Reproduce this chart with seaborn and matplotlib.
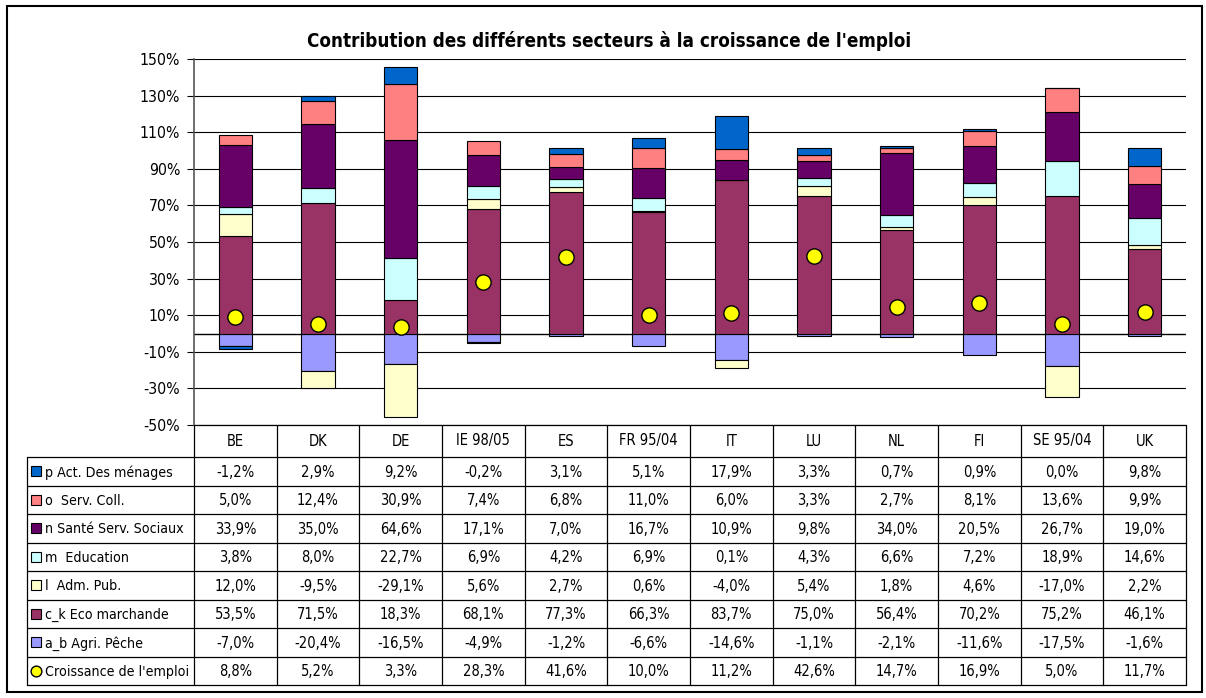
import os
import numpy as np
import matplotlib
matplotlib.use("Agg")
import matplotlib.pyplot as plt
from matplotlib import font_manager
from matplotlib.patches import Rectangle
import seaborn as sns

# données lues dans le tableau du graphique (%)
pays = ["BE", "DK", "DE", "IE 98/05", "ES", "FR 95/04", "IT", "LU", "NL", "FI", "SE 95/04", "UK"]

p_menages = [-1.2, 2.9, 9.2, -0.2, 3.1, 5.1, 17.9, 3.3, 0.7, 0.9, 0.0, 9.8]
o_serv_coll = [5.0, 12.4, 30.9, 7.4, 6.8, 11.0, 6.0, 3.3, 2.7, 8.1, 13.6, 9.9]
n_sante = [33.9, 35.0, 64.6, 17.1, 7.0, 16.7, 10.9, 9.8, 34.0, 20.5, 26.7, 19.0]
m_education = [3.8, 8.0, 22.7, 6.9, 4.2, 6.9, 0.1, 4.3, 6.6, 7.2, 18.9, 14.6]
l_adm_pub = [12.0, -9.5, -29.1, 5.6, 2.7, 0.6, -4.0, 5.4, 1.8, 4.6, -17.0, 2.2]
ck_eco = [53.5, 71.5, 18.3, 68.1, 77.3, 66.3, 83.7, 75.0, 56.4, 70.2, 75.2, 46.1]
ab_agri = [-7.0, -20.4, -16.5, -4.9, -1.2, -6.6, -14.6, -1.1, -2.1, -11.6, -17.5, -1.6]
croissance = [8.8, 5.2, 3.3, 28.3, 41.6, 10.0, 11.2, 42.6, 14.7, 16.9, 5.0, 11.7]

# ordre du tableau (haut -> bas)
noms = ["p Act. Des ménages", "o  Serv. Coll.", "n Santé Serv. Sociaux", "m  Education",
        "l  Adm. Pub.", "c_k Eco marchande", "a_b Agri. Pêche"]
series = [p_menages, o_serv_coll, n_sante, m_education, l_adm_pub, ck_eco, ab_agri]
couleurs = ["#0066CC", "#FF8080", "#660066", "#CCFFFF", "#FFFFCC", "#993366", "#9999FF"]
nom_croissance = "Croissance de l'emploi"

sns.set_style("white")
plt.rcParams["font.family"] = ["DejaVu Sans"]
plt.rcParams["text.color"] = "black"
plt.rcParams["ytick.color"] = "black"
plt.rcParams["ytick.labelcolor"] = "black"


# police étroite si disponible (comme Arial Narrow dans Excel)
def police_etroite(gras):
    prefs = ["LiberationSansNarrow", "DejaVuSansCondensed", "RobotoCondensed", "OpenSans_Condensed",
             "OpenSansCondensed", "NotoSansDisplay_Condensed", "NotoSans-Condensed"]
    fichiers = [f.fname for f in font_manager.fontManager.ttflist]
    for pr in prefs:
        for fn in fichiers:
            b = os.path.basename(fn).replace(" ", "")
            if pr in b and "Italic" not in b and "Oblique" not in b:
                est_gras = "Bold" in b and "SemiBold" not in b and "ExtraBold" not in b
                if est_gras == gras and ("Light" not in b and "Thin" not in b and "Medium" not in b):
                    return fn
    return None


f_reg = police_etroite(False)
f_bold = police_etroite(True)
fp = font_manager.FontProperties(fname=f_reg) if f_reg else font_manager.FontProperties(family="DejaVu Sans")
fpb = font_manager.FontProperties(fname=f_bold) if f_bold else font_manager.FontProperties(family="DejaVu Sans", weight="bold")
narrow = f_reg is not None and "Narrow" in f_reg
TS = 12 if narrow else (10.5 if f_reg else 9.5)


def F(size, bold=False):
    p = (fpb if bold else fp).copy()
    p.set_size(size)
    return p


W, H = 1206, 698
fig = plt.figure(figsize=(W / 100, H / 100), dpi=100)
fx = lambda px: px / W
fy = lambda py: 1 - py / H

X0, X1, Y0, Y1 = 194, 1186, 59, 425
ax = fig.add_axes([fx(X0), fy(Y1), fx(X1) - fx(X0), fy(Y0) - fy(Y1)])

n = len(pays)
pos = np.zeros(n)
neg = np.zeros(n)
for vals, col in zip(series[::-1], couleurs[::-1]):
    v = np.array(vals, dtype=float)
    base = np.where(v >= 0, pos, neg)
    sns.barplot(x=pays, y=v, order=pays, bottom=base, color=col, saturation=1,
                width=0.4, edgecolor="black", linewidth=0.8, errorbar=None, ax=ax, zorder=3)
    pos += np.where(v >= 0, v, 0)
    neg += np.where(v < 0, v, 0)

sns.stripplot(x=pays, y=croissance, order=pays, jitter=False, color="#FFFF00",
              edgecolor="black", linewidth=1, size=11, ax=ax, zorder=5)

ax.set_xlim(-0.5, n - 0.5)
ax.set_ylim(-50, 150)
ticks = list(range(-50, 151, 20))
ax.set_yticks(ticks)
ax.set_yticklabels([f"{t}%" for t in ticks], fontproperties=F(TS + 0.8))
ax.yaxis.grid(True, color="black", linewidth=0.8, zorder=0)
ax.set_axisbelow(True)
ax.axhline(0, color="black", linewidth=1, zorder=2)
ax.tick_params(axis="x", bottom=False, labelbottom=False)
ax.tick_params(axis="y", left=True, direction="out", length=5, width=0.8, color="black", pad=5)
ax.set_xlabel("")
ax.set_ylabel("")
for s in ["top", "right", "bottom"]:
    ax.spines[s].set_visible(False)
ax.spines["left"].set_color("#555555")
ax.spines["left"].set_linewidth(1.2)

# tableau de données sous le graphique
T1 = 685
tax = fig.add_axes([fx(X0), fy(T1), fx(X1) - fx(X0), fy(Y1) - fy(T1)])
tax.set_xlim(-0.5, n - 0.5)
tax.set_ylim(T1, Y1)
tax.axis("off")
ppu = (X1 - X0) / n
xl = -0.5 - (X0 - 27) / ppu
bords = np.linspace(457, T1, 9)

kw = dict(color="black", linewidth=0.9, clip_on=False)
tax.plot([-0.5, n - 0.5], [Y1, Y1], **kw)
for yb in bords:
    tax.plot([xl, n - 0.5], [yb, yb], **kw)
tax.plot([xl, xl], [bords[0], T1], **kw)
for k in range(n + 1):
    tax.plot([k - 0.5, k - 0.5], [Y1, T1], **kw)

fmt = lambda v: f"{v:.1f}%".replace(".", ",")
for i, p in enumerate(pays):
    tax.text(i, (Y1 + bords[0]) / 2, p, ha="center", va="center", fontproperties=F(TS))

lignes = list(zip(noms, series)) + [(nom_croissance, croissance)]
for r, (nom, vals) in enumerate(lignes):
    yc = (bords[r] + bords[r + 1]) / 2
    if r < len(series):
        tax.add_patch(Rectangle((xl + 4 / ppu, yc - 5), 10 / ppu, 10, facecolor=couleurs[r],
                                edgecolor="black", linewidth=0.8, clip_on=False))
    else:
        tax.scatter([xl + 9 / ppu], [yc], s=60, color="#FFFF00", edgecolor="black",
                    linewidth=1, clip_on=False, zorder=5)
    tax.text(xl + 18 / ppu, yc + 1, nom, ha="left", va="center", fontproperties=F(TS - 0.3))
    for i, v in enumerate(vals):
        tax.text(i, yc + 1, fmt(v), ha="center", va="center", fontproperties=F(TS))

fig.text(fx(609), fy(41), "Contribution des différents secteurs à la croissance de l'emploi",
         ha="center", va="center", fontproperties=F(16 if narrow else 13.5, bold=True))

fig.add_artist(Rectangle((fx(7), fy(692)), fx(1202) - fx(7), fy(6) - fy(692),
                         transform=fig.transFigure, fill=False, edgecolor="black", linewidth=1.5))

fig.savefig("out.png", dpi=100)
